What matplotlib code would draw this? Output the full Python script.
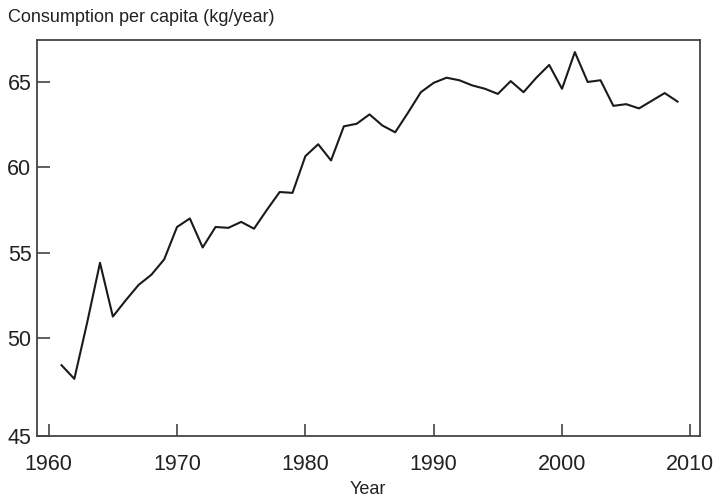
import matplotlib
matplotlib.use("Agg")
import matplotlib.pyplot as plt

# Data
years = list(range(1961, 2010))
consumption = [
    48.4, 47.6, 50.9, 54.4, 51.25, 52.2, 53.1, 53.7, 54.6, 56.5,
    57.0, 55.3, 56.5, 56.45, 56.8, 56.4, 57.5, 58.55, 58.5, 60.65,
    61.35, 60.4, 62.4, 62.55, 63.1, 62.45, 62.05, 63.2, 64.4, 64.95,
    65.25, 65.1, 64.8, 64.6, 64.3, 65.05, 64.4, 65.25, 66.0, 64.6,
    66.75, 65.0, 65.1, 63.6, 63.7, 63.45, 63.9, 64.35, 63.85,
]
x_ticks = [1960, 1970, 1980, 1990, 2000, 2010]
y_ticks = [50, 55, 60, 65]

plt.rcParams["font.family"] = ["Liberation Sans", "DejaVu Sans"]

fig = plt.figure(figsize=(7.17, 5.0), dpi=100)
ax = fig.add_axes([0.0516, 0.128, 0.9243, 0.792])

ax.plot(years, consumption, color="#1a1a1a", lw=1.5)

# bottom of the axis is labelled 45 in the reference
y_bottom = 44.25
ax.set_xlim(1959.09, 2010.73)
ax.set_ylim(y_bottom, 67.46)
ax.set_xticks(x_ticks)
ax.set_xticklabels([str(t) for t in x_ticks])
ax.set_yticks([y_bottom] + y_ticks)
ax.set_yticklabels(["45"] + [str(t) for t in y_ticks])

ax.tick_params(direction="in", length=9, width=1.1, color="#333333",
               labelsize=15.5, labelcolor="#222222")
ax.tick_params(axis="x", pad=13)
ax.tick_params(axis="y", pad=4)
for s in ax.spines.values():
    s.set_color("#444444")
    s.set_linewidth(1.3)

fig.text(8 / 717, 1 - 18 / 500, "Consumption per capita (kg/year)",
         fontsize=13, color="#222222", ha="left", va="center")
fig.text(368 / 717, 1 - 490 / 500, "Year", fontsize=13, color="#222222",
         ha="center", va="center")

plt.savefig("out.png", dpi=100)
plt.close()
